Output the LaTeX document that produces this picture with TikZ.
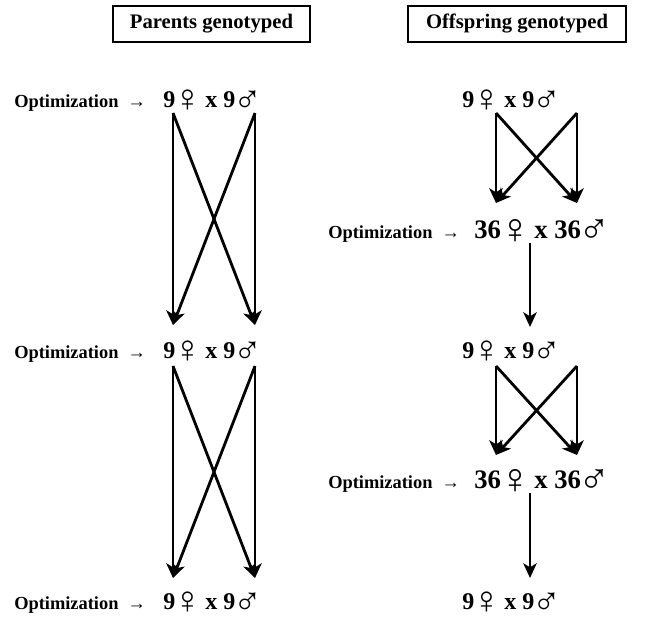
\documentclass[tikz,border=0pt]{standalone}
\usepackage{fontspec}
\setmainfont{Liberation Serif}
\newfontfamily\sexfont{Liberation Serif}[Scale=1.6]
\usetikzlibrary{arrows.meta,positioning}
\newcommand{\mating}[1]{#1\kern-.06em\raisebox{-.2em}{\sexfont\mdseries ♀}\kern-.14em\ x\ #1\kern-.08em\raisebox{-.22em}{\sexfont\mdseries ♂}}
\newcommand{\optim}{Optimization~~{\mdseries →}}
\tikzset{head/.style={draw,line width=.8pt,minimum width=147.75pt,minimum height=27pt,
   font=\fontsize{15.5}{18}\selectfont\bfseries},
 opt/.style={anchor=base west,inner sep=0pt,font=\fontsize{13.8}{16}\selectfont\bfseries},
 gen/.style={opt,font=\fontsize{18}{21}\selectfont\bfseries},
 big/.style={opt,font=\fontsize{20}{24}\selectfont\bfseries},
 arr/.style={-{Stealth[length=11pt,width=10pt,inset=3pt]},line width=2.1pt}}
\begin{document}
\begin{tikzpicture}[x=0.75pt,y=-0.75pt]
\useasboundingbox (0,0) rectangle (651,621);
\node[head] (hp) at (211.5,24) {Parents genotyped};
\node[head,minimum width=163.5pt] (ho) at (517,24) {Offspring genotyped};
% parents genotyped
\node[opt] (o1) at (14,107) {\optim};\node[gen] (p1) at (163,107) {\mating{9}};
\node[opt] (o2) at (14,358) {\optim};\node[gen] (p2) at (163,358) {\mating{9}};
\node[opt] (o3) at (14,609) {\optim};\node[gen] (p3) at (163,609) {\mating{9}};
\foreach \t/\b in {113/325,366/578}{
 \coordinate (lt) at (173,\t);\coordinate (rt) at (255,\t);
 \coordinate (lb) at (173,\b);\coordinate (rb) at (255,\b);
 \draw[arr] (lt)--(lb);\draw[arr] (rt)--(rb);
 \draw[arr] (lt)--(rb);\draw[arr] (rt)--(lb);}
% offspring genotyped
\node[gen] (q1) at (462,107) {\mating{9}};
\node[opt] (o4) at (328,238) {\optim};\node[big] (r1) at (474,238) {\mating{36}};
\node[gen] (q2) at (462,358) {\mating{9}};
\node[opt] (o5) at (328,488) {\optim};\node[big] (r2) at (474,488) {\mating{36}};
\node[gen] (q3) at (462,609) {\mating{9}};
\foreach \t/\b in {113/203,366/455}{
 \coordinate (lt) at (496,\t);\coordinate (rt) at (577,\t);
 \coordinate (lb) at (496,\b);\coordinate (rb) at (577,\b);
 \draw[arr] (lt)--(lb);\draw[arr] (rt)--(rb);
 \draw[arr] (lt)--(rb);\draw[arr] (rt)--(lb);}
\foreach \t/\b in {243/327,493/578}{
 \coordinate (vt) at (530,\t);\coordinate (vb) at (530,\b);
 \draw[arr] (vt)--(vb);}
\end{tikzpicture}
\end{document}
